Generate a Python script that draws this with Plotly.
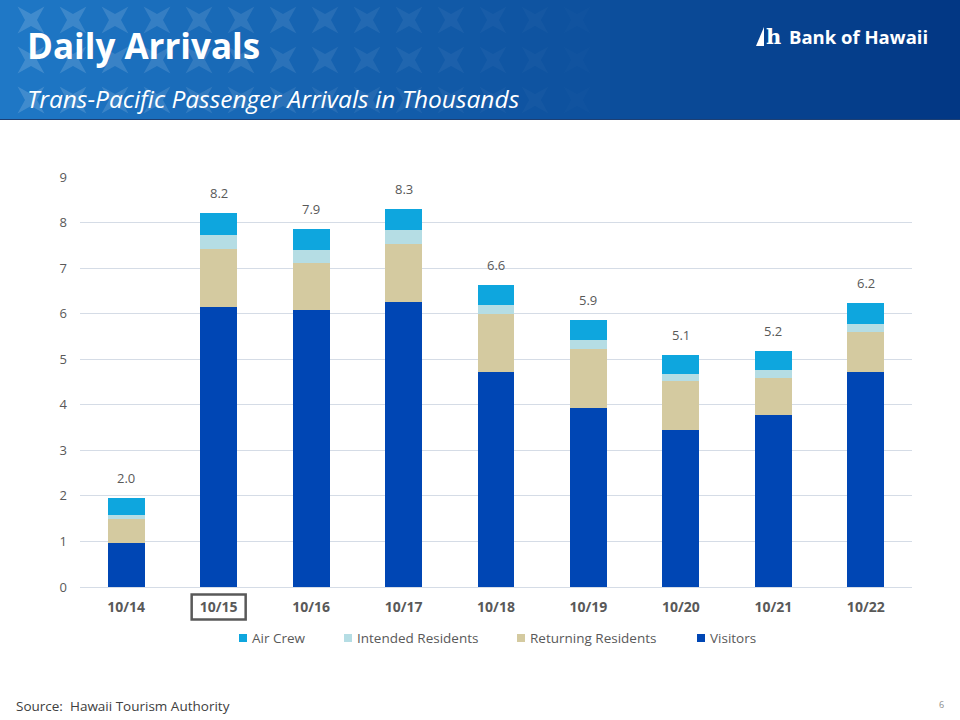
import math
import plotly.graph_objects as go

# ---------------- data ----------------
dates = ["10/14", "10/15", "10/16", "10/17", "10/18", "10/19", "10/20", "10/21", "10/22"]
visitors = [0.97, 6.14, 6.07, 6.26, 4.73, 3.92, 3.45, 3.78, 4.73]
returning_residents = [0.53, 1.29, 1.05, 1.27, 1.27, 1.31, 1.08, 0.81, 0.86]
intended_residents = [0.09, 0.29, 0.27, 0.31, 0.20, 0.20, 0.15, 0.18, 0.18]
air_crew = [0.37, 0.50, 0.47, 0.46, 0.44, 0.43, 0.42, 0.40, 0.47]
y_ticks = [0, 1, 2, 3, 4, 5, 6, 7, 8, 9]
highlight_date = "10/15"

# ---------------- layout geometry (pixels) ----------------
W, H = 960, 720
PL, PR, PT, PB = 80, 912, 177, 587


def px(x):
    return (x - PL) / (PR - PL)


def py(y):
    return (PB - y) / (PB - PT)


FONT = "Open Sans"
GRAY = "#595959"

fig = go.Figure()
series = [
    ("Visitors", visitors, "#0046B4"),
    ("Returning Residents", returning_residents, "#D4CAA0"),
    ("Intended Residents", intended_residents, "#B5DDE4"),
    ("Air Crew", air_crew, "#0EA6DE"),
]
for name, vals, col in series:
    fig.add_trace(go.Bar(x=dates, y=vals, name=name, marker=dict(color=col, line=dict(width=0)),
                         width=0.4, hoverinfo="x+y+name", showlegend=False))

totals = [v + r + i + a for v, r, i, a in zip(visitors, returning_residents, intended_residents, air_crew)]
annotations = []
for d, t in zip(dates, totals):
    annotations.append(dict(x=d, y=t, xref="x", yref="y", text=f"{t:.1f}", showarrow=False,
                            yanchor="bottom", yshift=9, font=dict(family=FONT, size=13, color=GRAY)))

# header texts
annotations += [
    dict(x=px(25), y=py(46), xref="paper", yref="paper", xanchor="left", yanchor="middle",
         text="<b>Daily Arrivals</b>", showarrow=False,
         font=dict(family=FONT, size=35, color="white")),
    dict(x=px(25), y=py(98), xref="paper", yref="paper", xanchor="left", yanchor="middle",
         text="<i>Trans-Pacific Passenger Arrivals in Thousands</i>", showarrow=False,
         font=dict(family=FONT, size=24.5, color="white")),
    dict(x=px(764), y=py(37), xref="paper", yref="paper", xanchor="left", yanchor="middle",
         text="<b>h</b>", showarrow=False,
         font=dict(family="DejaVu Serif", size=21, color="white")),
    dict(x=px(787), y=py(37), xref="paper", yref="paper", xanchor="left", yanchor="middle",
         text="<b>Bank of Hawaii</b>", showarrow=False,
         font=dict(family=FONT, size=18.5, color="white")),
    dict(x=px(14), y=py(706), xref="paper", yref="paper", xanchor="left", yanchor="middle",
         text="Source:  Hawaii Tourism Authority", showarrow=False,
         font=dict(family=FONT, size=13.5, color="#404040")),
    dict(x=px(946), y=py(704), xref="paper", yref="paper", xanchor="right", yanchor="middle",
         text="6", showarrow=False,
         font=dict(family=FONT, size=9, color="#8C8C8C")),
]

# header banner gradient (decorative strips)
shapes = []
c0 = (0x1F, 0x78, 0xC6)
c1 = (0x02, 0x37, 0x84)
n = 96
for k in range(n):
    t = k / (n - 1)
    col = tuple(round(a + (b - a) * t) for a, b in zip(c0, c1))
    shapes.append(dict(type="rect", xref="paper", yref="paper",
                       x0=px(k * W / n), x1=px((k + 1) * W / n + 0.6), y0=py(119), y1=py(0),
                       fillcolor="rgb(%d,%d,%d)" % col, line=dict(width=0), layer="below"))

# faint decorative pinwheel pattern on the banner
TW, TH = 42, 40
for col_i in range(15):
    for row_i in range(3):
        cx = 10 + TW * col_i + TW / 2
        cy = TH * row_i + TH / 2
        op = 0.16 * max(0.0, 1 - cx / 640)
        if op <= 0.01:
            continue
        pts = []
        for j in range(8):
            ang = math.pi / 4 + j * math.pi / 4
            r = 19 if j % 2 == 0 else 6
            pts.append((cx + r * math.cos(ang), min(119, cy + r * math.sin(ang))))
        path = "M " + " L ".join("%f %f" % (px(a), py(b)) for a, b in pts) + " Z"
        shapes.append(dict(type="path", xref="paper", yref="paper", path=path,
                           fillcolor="rgba(255,255,255,%.3f)" % op, line=dict(width=0), layer="below"))

shapes.append(dict(type="line", xref="paper", yref="paper", x0=px(0), x1=px(W), y0=py(119.5), y1=py(119.5),
                   line=dict(color="#1D3F73", width=1)))
# logo mark (slanted wedge)
shapes.append(dict(type="path", xref="paper", yref="paper",
                   path="M %f %f L %f %f L %f %f Z" % (px(756), py(46), px(764), py(27), px(764), py(46)),
                   fillcolor="white", line=dict(width=0)))
# highlight box around a category label
hi = dates.index(highlight_date)
cw = (PR - PL) / len(dates)
cx = PL + cw * (hi + 0.5)
shapes.append(dict(type="rect", xref="paper", yref="paper",
                   x0=px(cx - 27), x1=px(cx + 27), y0=py(619.5), y1=py(594.5),
                   line=dict(color=GRAY, width=2.5), fillcolor="rgba(0,0,0,0)"))

# legend (drawn, in reference order)
legend_items = [("Air Crew", "#0EA6DE", 252), ("Intended Residents", "#B5DDE4", 357),
                ("Returning Residents", "#D4CAA0", 530), ("Visitors", "#0046B4", 710)]
LY = 638
for name, col, tx in legend_items:
    shapes.append(dict(type="rect", xref="paper", yref="paper",
                       x0=px(tx - 13), x1=px(tx - 5), y0=py(LY + 4), y1=py(LY - 4),
                       fillcolor=col, line=dict(width=0)))
    annotations.append(dict(x=px(tx - 2), y=py(LY), xref="paper", yref="paper", xanchor="left",
                            yanchor="middle", text=name, showarrow=False,
                            font=dict(family=FONT, size=13.5, color=GRAY)))

fig.update_layout(
    width=W, height=H,
    margin=dict(l=PL, r=W - PR, t=PT, b=H - PB, pad=0),
    paper_bgcolor="white", plot_bgcolor="white",
    barmode="stack", bargap=0.6,
    font=dict(family=FONT, size=13, color=GRAY),
    showlegend=False,
    xaxis=dict(type="category", categoryorder="array", categoryarray=dates,
               showgrid=False, zeroline=False, showline=False, ticks="",
               tickfont=dict(family=FONT, size=14, color=GRAY, weight="bold"),
               ticklabelstandoff=10, fixedrange=True),
    yaxis=dict(range=[0, 9], tickvals=y_ticks, showgrid=True, gridcolor="#D5DCE6", gridwidth=1,
               zeroline=True, zerolinecolor="#D5DCE6", zerolinewidth=1, showline=False, ticks="",
               tickfont=dict(family=FONT, size=13, color=GRAY), ticklabelstandoff=12, fixedrange=True),
    annotations=annotations,
    shapes=shapes,
)

fig.write_html("out.html")
